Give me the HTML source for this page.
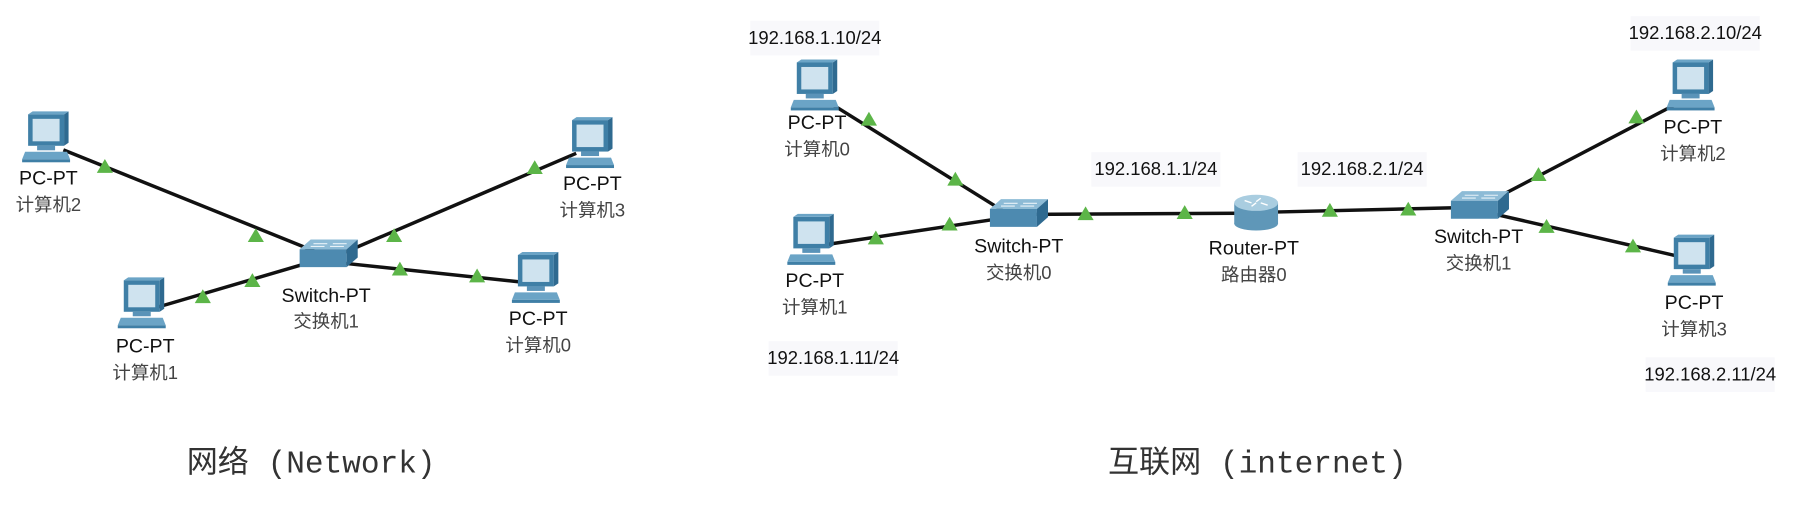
<!DOCTYPE html>
<html><head><meta charset="utf-8"><style>
html,body{margin:0;padding:0;background:#fff;width:1807px;height:506px;overflow:hidden}
svg{display:block}
.t{font-family:"Liberation Sans","Noto Sans CJK SC",sans-serif;font-size:17px;fill:#111;text-anchor:middle}
.c{font-family:"Liberation Sans","Noto Sans CJK SC",sans-serif;font-size:16px;fill:#444;text-anchor:middle}
.ip{font-family:"Liberation Sans",sans-serif;font-size:16px;fill:#111;text-anchor:middle}
.ti{font-family:"Liberation Mono","Noto Sans CJK SC",monospace;font-size:27px;fill:#333;text-anchor:middle}
</style></head><body>
<svg width="1807" height="506" viewBox="0 0 1568 439" preserveAspectRatio="none">
<defs>
<g id="pc0">
 <rect x="-12" y="-16" width="24" height="21" fill="#3f7fa6"/>
 <rect x="-9" y="-13" width="18" height="15" fill="#cfe3ef"/>
 <polygon points="12,-16 15,-18 15,3 12,5" fill="#2f6a90"/>
 <polygon points="-12,-16 12,-16 15,-18 -9,-18" fill="#6ba4c6"/>
 <rect x="-6" y="5" width="12" height="3" fill="#5a93b8"/>
 <polygon points="-14,9 14,9 16,14 -16,14" fill="#6ba4c6"/>
 <rect x="-16" y="14" width="32" height="2" fill="#3f7fa6"/>
</g>
<g id="pc"><use href="#pc0" transform="scale(1.3)"/></g>
<g id="sw0">
 <polygon points="-20,-4 -12,-11 22,-11 14,-4" fill="#8dbbd6"/>
 <polygon points="-20,-4 14,-4 14,9 -20,9" fill="#4d8ab0"/>
 <polygon points="14,-4 22,-11 22,2 14,9" fill="#2f6a90"/>
 <path d="M-10,-8 h10 M4,-8 h10 M-12,-6 h10 M2,-6 h10" stroke="#e8f2f8" stroke-width="0.8"/>
</g>
<g id="sw"><use href="#sw0" transform="scale(1.2)"/></g>
<g id="rt">
 <rect x="-19" y="-6" width="38" height="18" fill="#5f97b8"/>
 <ellipse cx="0" cy="12" rx="19" ry="6" fill="#5f97b8"/>
 <ellipse cx="0" cy="-6" rx="19" ry="7" fill="#a9cde0"/>
 <path d="M-10,-8 l6,2 M10,-4 l-6,-2 M-4,-3 l4,-3 M4,-10 l-4,3" stroke="#fff" stroke-width="1.2"/>
</g>
<polygon id="tr" points="0,-7 7,5 -7,5" fill="#5cb548"/>
</defs>

<g stroke="#111" stroke-width="3">
<line x1="55" y1="130" x2="283" y2="222"/>
<line x1="500" y1="133" x2="292" y2="222"/>
<line x1="135" y1="267" x2="278" y2="225"/>
<line x1="295" y1="228" x2="455" y2="245"/>
</g>
<use href="#sw" x="284" y="221"/>
<use href="#pc" x="40" y="120"/>
<use href="#pc" x="512" y="125"/>
<use href="#pc" x="123" y="264"/>
<use href="#pc" x="465" y="242"/>
<use href="#tr" x="91" y="145"/><use href="#tr" x="222" y="205"/>
<use href="#tr" x="176" y="258"/><use href="#tr" x="219" y="244"/>
<use href="#tr" x="342" y="205"/><use href="#tr" x="464" y="146"/>
<use href="#tr" x="347" y="234"/><use href="#tr" x="414" y="240"/>
<text class="t" x="42" y="160">PC-PT</text><text class="c" x="42" y="183">计算机2</text>
<text class="t" x="514" y="165">PC-PT</text><text class="c" x="514" y="188">计算机3</text>
<text class="t" x="126" y="306">PC-PT</text><text class="c" x="126" y="329">计算机1</text>
<text class="t" x="467" y="282">PC-PT</text><text class="c" x="467" y="305">计算机0</text>
<text class="t" x="283" y="262">Switch-PT</text><text class="c" x="283" y="284">交换机1</text>
<text class="ti" x="270" y="410">网络 (Network)</text>

<g stroke="#111" stroke-width="3">
<line x1="718" y1="88" x2="872" y2="184"/>
<line x1="718" y1="212" x2="872" y2="189"/>
<line x1="895" y1="186" x2="1075" y2="185"/>
<line x1="1105" y1="184" x2="1272" y2="180"/>
<line x1="1298" y1="172" x2="1455" y2="90"/>
<line x1="1298" y1="186" x2="1455" y2="222"/>
</g>
<use href="#sw" x="883" y="186"/>
<use href="#rt" x="1090" y="182"/>
<use href="#sw" x="1283" y="179"/>
<use href="#pc" x="707" y="75"/>
<use href="#pc" x="704" y="209"/>
<use href="#pc" x="1467" y="75"/>
<use href="#pc" x="1468" y="227"/>
<use href="#tr" x="754" y="104"/><use href="#tr" x="829" y="156"/>
<use href="#tr" x="760" y="207"/><use href="#tr" x="824" y="195"/>
<use href="#tr" x="942" y="186"/><use href="#tr" x="1028" y="185"/>
<use href="#tr" x="1154" y="183"/><use href="#tr" x="1222" y="182"/>
<use href="#tr" x="1335" y="152"/><use href="#tr" x="1420" y="102"/>
<use href="#tr" x="1342" y="197"/><use href="#tr" x="1417" y="214"/>
<g fill="#f8f8fb">
<rect x="651" y="18" width="112" height="30"/><rect x="667" y="296" width="112" height="30"/>
<rect x="947" y="132" width="112" height="30"/><rect x="1126" y="132" width="112" height="30"/>
<rect x="1415" y="14" width="112" height="30"/><rect x="1428" y="310" width="112" height="30"/>
</g>
<text class="ip" x="707" y="38">192.168.1.10/24</text>
<text class="ip" x="723" y="316">192.168.1.11/24</text>
<text class="ip" x="1003" y="152">192.168.1.1/24</text>
<text class="ip" x="1182" y="152">192.168.2.1/24</text>
<text class="ip" x="1471" y="34">192.168.2.10/24</text>
<text class="ip" x="1484" y="330">192.168.2.11/24</text>
<text class="t" x="709" y="112">PC-PT</text><text class="c" x="709" y="135">计算机0</text>
<text class="t" x="707" y="249">PC-PT</text><text class="c" x="707" y="272">计算机1</text>
<text class="t" x="884" y="219">Switch-PT</text><text class="c" x="884" y="242">交换机0</text>
<text class="t" x="1088" y="221">Router-PT</text><text class="c" x="1088" y="244">路由器0</text>
<text class="t" x="1283" y="211">Switch-PT</text><text class="c" x="1283" y="234">交换机1</text>
<text class="t" x="1469" y="116">PC-PT</text><text class="c" x="1469" y="139">计算机2</text>
<text class="t" x="1470" y="268">PC-PT</text><text class="c" x="1470" y="291">计算机3</text>
<text class="ti" x="1091" y="410">互联网 (internet)</text>
</svg>
</body></html>
